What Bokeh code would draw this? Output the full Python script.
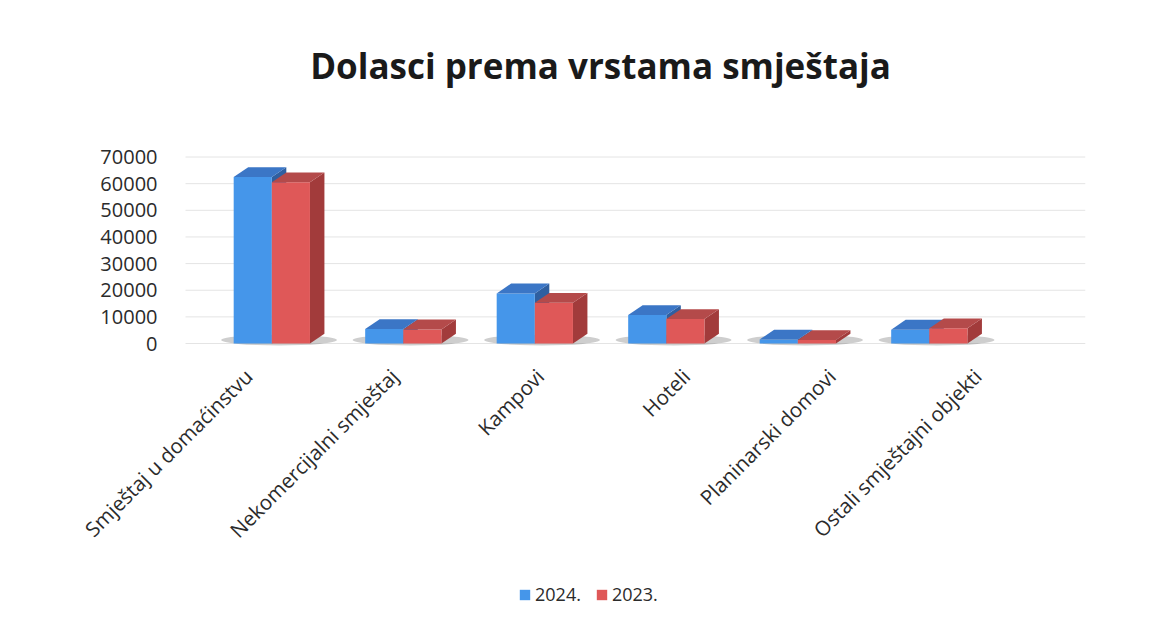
import math
from bokeh.plotting import figure
from bokeh.models import (ColumnDataSource, Legend, LegendItem, Range1d)
from bokeh.core.properties import value
from bokeh.embed import file_html
from bokeh.resources import INLINE

title_text = "Dolasci prema vrstama smještaja"
categories = ["Smještaj u domaćinstvu", "Nekomercijalni smještaj", "Kampovi",
              "Hoteli", "Planinarski domovi", "Ostali smještajni objekti"]
values_2024 = [62500, 5400, 18800, 10700, 1500, 5200]
values_2023 = [60500, 5300, 15300, 9200, 1300, 5700]
series_names = ["2024.", "2023."]
y_ticks = [0, 10000, 20000, 30000, 40000, 50000, 60000, 70000]

FONT = "Open Sans"
TEXT_COLOR = "#2b2b2b"
BAR_W = 0.29          # width of each bar front (category units)
DX = 0.11             # 3D depth offset along x (category units)
DY = 3700             # 3D depth offset along y (value units)
PX_PER_UNIT_Y = 26.64 / 10000   # vertical scale (px per value unit)
PX_PER_CAT = 131.5              # horizontal scale (px per category)

FIG_W, FIG_H = 1160, 613
LEFT, RIGHT = 60, 75
BASE_PX = 343                   # screen y of the zero line
frame_w = FIG_W - LEFT - RIGHT
x_start = -1.607
x_end = x_start + frame_w / PX_PER_CAT
y_end = BASE_PX / PX_PER_UNIT_Y
y_start = y_end - FIG_H / PX_PER_UNIT_Y

WALL_X = x_start + 125 / PX_PER_CAT        # left wall of the plot area
YLAB_X = x_start + 97 / PX_PER_CAT         # right edge of value labels
LABEL_X0 = x_start + 188 / PX_PER_CAT      # first category label anchor
LABEL_STEP = 145.8 / PX_PER_CAT            # label spacing (perspective)
LABEL_Y = -29 / PX_PER_UNIT_Y
TITLE_X = x_start + 540 / PX_PER_CAT
TITLE_Y = (BASE_PX - 65) / PX_PER_UNIT_Y

p = figure(width=FIG_W, height=FIG_H, output_backend="svg", toolbar_location=None,
           x_range=Range1d(x_start, x_end), y_range=Range1d(y_start, y_end),
           x_axis_location=None, y_axis_location=None,
           min_border_left=LEFT, min_border_right=RIGHT, min_border_top=0,
           min_border_bottom=0)
p.outline_line_color = None
p.background_fill_color = "white"
p.border_fill_color = "white"
p.xgrid.grid_line_color = None
p.ygrid.grid_line_color = None

# title
p.text(x=[TITLE_X], y=[TITLE_Y], text=[title_text], text_align="center",
       text_baseline="alphabetic", text_font=value(FONT), text_font_size="35px",
       text_font_style="bold", text_color="#1a1a1a")

# value gridlines and labels
p.segment(x0=[WALL_X] * len(y_ticks), x1=[x_end] * len(y_ticks),
          y0=y_ticks, y1=y_ticks, line_color="#e4e4e4", line_width=1)
ylab = ColumnDataSource(dict(x=[YLAB_X] * len(y_ticks), y=y_ticks,
                             text=[str(t) for t in y_ticks]))
p.text(x="x", y="y", text="text", source=ylab, text_align="right",
       text_baseline="middle", text_font=value(FONT), text_font_size="20px",
       text_color=TEXT_COLOR)

xs = list(range(len(categories)))

# floor shadows under each bar pair
p.ellipse(x=[x + DX / 2 for x in xs], y=[DY * 0.35] * len(xs),
          width=2 * BAR_W + 0.3, height=DY * 1.1,
          fill_color="#6a6a6a", fill_alpha=0.33, line_color=None)

styles = [
    dict(front="#4596ea", top="#3b76c6", side="#2f5fa0"),
    dict(front="#df5858", top="#b44a4a", side="#a23b3b"),
]
offsets = [-BAR_W / 2, BAR_W / 2]
legend_items = []
for vals, name, st, off in zip([values_2024, values_2023], series_names, styles, offsets):
    centers = [x + off for x in xs]
    x0 = [c - BAR_W / 2 for c in centers]
    x1 = [c + BAR_W / 2 for c in centers]
    side_xs = [[b, b, b + DX, b + DX] for b in x1]
    side_ys = [[0, v, v + DY, DY] for v in vals]
    p.patches(side_xs, side_ys, fill_color=st["side"], line_color=None)
    src = ColumnDataSource(dict(x=centers, top=vals))
    r = p.vbar(x="x", top="top", width=BAR_W, source=src,
               fill_color=st["front"], line_color=None)
    top_xs = [[a, b, b + DX, a + DX] for a, b in zip(x0, x1)]
    top_ys = [[v, v, v + DY, v + DY] for v in vals]
    p.patches(top_xs, top_ys, fill_color=st["top"], line_color=None)
    legend_items.append(LegendItem(label=name, renderers=[r]))

# category labels (rotated 45 degrees)
lab_src = ColumnDataSource(dict(x=[LABEL_X0 + i * LABEL_STEP for i in xs],
                                y=[LABEL_Y] * len(xs), text=categories))
p.text(x="x", y="y", text="text", source=lab_src, angle=math.pi / 4,
       text_align="right", text_baseline="middle",
       text_font=value(FONT), text_font_size="20.5px", text_color=TEXT_COLOR)

legend = Legend(items=legend_items, orientation="horizontal",
                location=(458, 7), border_line_color=None, margin=0,
                background_fill_alpha=0, label_text_font=FONT,
                label_text_font_size="18px", label_text_color=TEXT_COLOR,
                glyph_width=13, glyph_height=13, spacing=14,
                label_standoff=4, padding=4)
p.add_layout(legend, "center")

with open("out.html", "w") as f:
    f.write(file_html(p, INLINE))
